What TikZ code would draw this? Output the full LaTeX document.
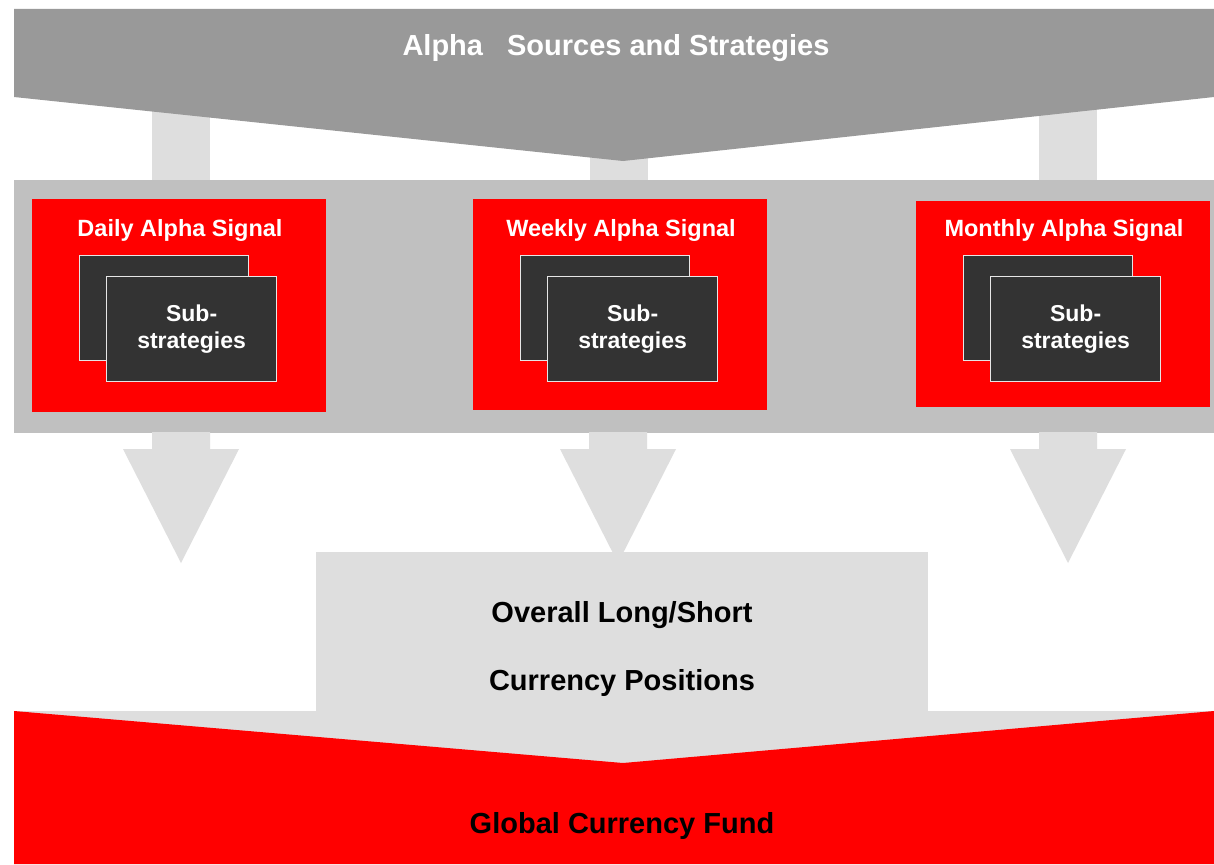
\documentclass[tikz,border=0pt]{standalone}
\usepackage{fontspec}
\setmainfont{Liberation Sans}
\definecolor{bannergray}{HTML}{999999}
\definecolor{bandgray}{HTML}{C0C0C0}
\definecolor{pipegray}{HTML}{DEDEDE}
\definecolor{sigred}{HTML}{FF0000}
\definecolor{subdark}{HTML}{333333}
\definecolor{subedge}{HTML}{E6E6E6}
\begin{document}
\begin{tikzpicture}[x=1pt,y=-1pt,
  bigtext/.style={font=\fontsize{29}{35}\selectfont\bfseries},
  midtext/.style={font=\fontsize{23.5}{27}\selectfont\bfseries},
  subtext/.style={font=\fontsize{23}{27}\selectfont\bfseries},
  signalbox/.style={fill=sigred, draw=none, anchor=north west, inner sep=0pt,
    minimum width=294pt},
  subbox/.style={fill=subdark, draw=subedge, line width=1.2pt, anchor=north west,
    inner sep=0pt, minimum width=169pt, minimum height=105pt},
  pipe/.style={fill=pipegray, draw=none}]
\useasboundingbox (0,0) rectangle (1214,864);
\fill[white] (0,0) rectangle (1214,864);

% feeders from the banner into the signal band
\foreach \c in {180.5,618.5,1068}
  \fill[pipe] (\c-29,95) rectangle (\c+29,181);

% banner: Alpha sources and strategies
\fill[bannergray] (14,9) -- (1214,9) -- (1214,97) -- (623,161) -- (14,97) -- cycle;
\node[bigtext, text=white] (alpha) at (616,48) {Alpha\hspace{0.83em}Sources and Strategies};

% signal band
\fill[bandgray] (14,180) rectangle (1214,433);

% down arrows from the band to the positions box
\foreach \c in {181,618,1068}
  \fill[pipe] (\c-29,432) -- (\c+29,432) -- (\c+29,449) -- (\c+58,449) -- (\c,563)
    -- (\c-58,449) -- (\c-29,449) -- cycle;

% the three signal boxes with their sub-strategies
\foreach \n/\x/\y/\h/\lab in {daily/32/199/213/Daily, weekly/473/199/211/Weekly, monthly/916/201/206/Monthly}{
  \node[signalbox, minimum height=\h pt] (\n-red) at (\x,\y) {};
  \node[midtext, text=white] (\n-title) at (\x+148,230) {\lab\ Alpha Signal};
  \node[subbox] (\n-back) at (\x+47,255) {};
  \node[subbox, minimum width=170pt] (\n-front) at (\x+74,276) {};
  \node[subtext, text=white, align=center] (\n-sub) at (\n-front.center) {Sub-\\strategies};
}

% positions box and the fund chevron
\fill[pipegray] (316,552) rectangle (928,712);
\fill[pipegray] (14,711) rectangle (1214,770);
\node[bigtext, align=center] (pos1) at (622,615) {Overall Long/Short};
\node[bigtext, align=center] (pos2) at (622,683) {Currency Positions};
\fill[sigred] (14,711) -- (623,763) -- (1214,711) -- (1214,864) -- (14,864) -- cycle;
\node[bigtext] (fund) at (622,826) {Global Currency Fund};
\end{tikzpicture}
\end{document}
